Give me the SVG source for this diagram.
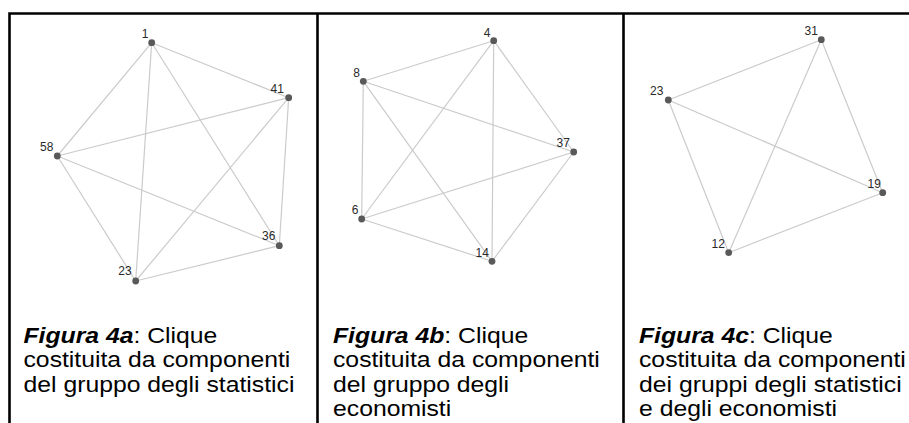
<svg xmlns="http://www.w3.org/2000/svg" width="909" height="423" viewBox="0 0 909 423">
<style>
.frame{stroke:#000;stroke-width:2.6;fill:none}
.edge{stroke:#cbcbcb;stroke-width:1.2;fill:none}
.dot{fill:#595959}
.lbl{font-family:"Liberation Sans",Arial,sans-serif;font-size:12px;fill:#2a2a2a;text-anchor:middle}
.cap{font-family:"Liberation Sans",Arial,sans-serif;font-size:22.5px;fill:#000}
.fig{font-weight:bold;font-style:italic}
</style>
<rect width="909" height="423" fill="#fff"/>
<g id="frame">
<path class="frame" d="M9.5 423 V13.5 H909 M317.5 13.5 V423 M623.5 13.5 V423"/>
</g>
<g id="connectors">
<line class="edge" x1="151.7" y1="42.7" x2="288.7" y2="97.7"/>
<line class="edge" x1="151.7" y1="42.7" x2="57.3" y2="156"/>
<line class="edge" x1="151.7" y1="42.7" x2="135.7" y2="281"/>
<line class="edge" x1="151.7" y1="42.7" x2="279.3" y2="245.7"/>
<line class="edge" x1="288.7" y1="97.7" x2="57.3" y2="156"/>
<line class="edge" x1="288.7" y1="97.7" x2="135.7" y2="281"/>
<line class="edge" x1="288.7" y1="97.7" x2="279.3" y2="245.7"/>
<line class="edge" x1="57.3" y1="156" x2="279.3" y2="245.7"/>
<line class="edge" x1="57.3" y1="156" x2="135.7" y2="281"/>
<line class="edge" x1="135.7" y1="281" x2="279.3" y2="245.7"/>
<line class="edge" x1="493.7" y1="40.7" x2="363.3" y2="81.3"/>
<line class="edge" x1="493.7" y1="40.7" x2="361.7" y2="219"/>
<line class="edge" x1="493.7" y1="40.7" x2="492" y2="261.3"/>
<line class="edge" x1="493.7" y1="40.7" x2="573.7" y2="152"/>
<line class="edge" x1="363.3" y1="81.3" x2="573.7" y2="152"/>
<line class="edge" x1="363.3" y1="81.3" x2="361.7" y2="219"/>
<line class="edge" x1="363.3" y1="81.3" x2="492" y2="261.3"/>
<line class="edge" x1="361.7" y1="219" x2="573.7" y2="152"/>
<line class="edge" x1="361.7" y1="219" x2="492" y2="261.3"/>
<line class="edge" x1="492" y1="261.3" x2="573.7" y2="152"/>
<line class="edge" x1="821.3" y1="39.7" x2="668.3" y2="100"/>
<line class="edge" x1="821.3" y1="39.7" x2="728.7" y2="252.7"/>
<line class="edge" x1="821.3" y1="39.7" x2="882.7" y2="192.7"/>
<line class="edge" x1="668.3" y1="100" x2="882.7" y2="192.7"/>
<line class="edge" x1="668.3" y1="100" x2="728.7" y2="252.7"/>
<line class="edge" x1="728.7" y1="252.7" x2="882.7" y2="192.7"/>
</g>
<g id="a1"><circle class="dot" cx="151.7" cy="42.7" r="3.4"/><text class="lbl" x="145" y="37.5">1</text></g>
<g id="a41"><circle class="dot" cx="288.7" cy="97.7" r="3.4"/><text class="lbl" x="277.3" y="92.5">41</text></g>
<g id="a58"><circle class="dot" cx="57.3" cy="156" r="3.4"/><text class="lbl" x="46.7" y="151">58</text></g>
<g id="a36"><circle class="dot" cx="279.3" cy="245.7" r="3.4"/><text class="lbl" x="268.7" y="240.3">36</text></g>
<g id="a23"><circle class="dot" cx="135.7" cy="281" r="3.4"/><text class="lbl" x="125" y="274.5">23</text></g>
<g id="b4"><circle class="dot" cx="493.7" cy="40.7" r="3.4"/><text class="lbl" x="487" y="36.5">4</text></g>
<g id="b8"><circle class="dot" cx="363.3" cy="81.3" r="3.4"/><text class="lbl" x="356.7" y="76.5">8</text></g>
<g id="b37"><circle class="dot" cx="573.7" cy="152" r="3.4"/><text class="lbl" x="563.3" y="147">37</text></g>
<g id="b6"><circle class="dot" cx="361.7" cy="219" r="3.4"/><text class="lbl" x="355" y="214.3">6</text></g>
<g id="b14"><circle class="dot" cx="492" cy="261.3" r="3.4"/><text class="lbl" x="482.3" y="256.5">14</text></g>
<g id="c31"><circle class="dot" cx="821.3" cy="39.7" r="3.4"/><text class="lbl" x="811.3" y="35.3">31</text></g>
<g id="c23"><circle class="dot" cx="668.3" cy="100" r="3.4"/><text class="lbl" x="656.7" y="95">23</text></g>
<g id="c19"><circle class="dot" cx="882.7" cy="192.7" r="3.4"/><text class="lbl" x="874.3" y="187.5">19</text></g>
<g id="c12"><circle class="dot" cx="728.7" cy="252.7" r="3.4"/><text class="lbl" x="718.3" y="248.3">12</text></g>
<g id="caption-a" transform="translate(23.5,0) scale(1.1,1)">
<text class="cap" x="0" y="343"><tspan class="fig">Figura 4a</tspan>: Clique</text>
<text class="cap" x="0" y="367.5">costituita da componenti</text>
<text class="cap" x="0" y="392">del gruppo degli statistici</text>
</g>
<g id="caption-b" transform="translate(333,0) scale(1.1,1)">
<text class="cap" x="0" y="343"><tspan class="fig">Figura 4b</tspan>: Clique</text>
<text class="cap" x="0" y="367.5">costituita da componenti</text>
<text class="cap" x="0" y="392">del gruppo degli</text>
<text class="cap" x="0" y="416.5">economisti</text>
</g>
<g id="caption-c" transform="translate(639,0) scale(1.1,1)">
<text class="cap" x="0" y="343"><tspan class="fig">Figura 4c</tspan>: Clique</text>
<text class="cap" x="0" y="367.5">costituita da componenti</text>
<text class="cap" x="0" y="392">dei gruppi degli statistici</text>
<text class="cap" x="0" y="416.5">e degli economisti</text>
</g>
</svg>
